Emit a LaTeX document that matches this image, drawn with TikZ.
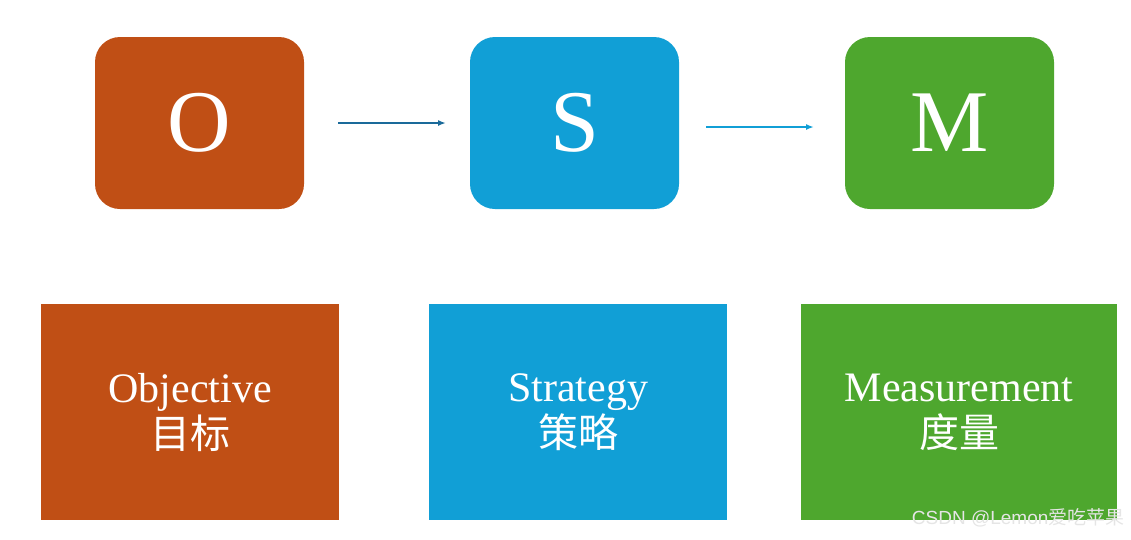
\documentclass[tikz,border=0pt]{standalone}
\usepackage{fontspec}
\setmainfont{Liberation Serif}
\newfontfamily\cjk{Noto Sans CJK SC}
\newfontfamily\wm{Liberation Sans}
\usetikzlibrary{arrows.meta}
\definecolor{co}{HTML}{C04F15}
\definecolor{cs}{HTML}{119FD6}
\definecolor{cm}{HTML}{4EA72E}
\definecolor{ca}{HTML}{1A6A9A}
\tikzset{
 rbox/.style={rounded corners=25pt,minimum width=209pt,minimum height=172pt,inner sep=0pt,text=white,font=\fontsize{88}{88}\selectfont},
 sbox/.style={minimum height=216pt,inner sep=0pt,text=white,align=center,font=\fontsize{42}{50}\selectfont},
 arr/.style={line width=2pt,-{Latex[length=8pt,width=6pt]}}
}
\begin{document}
\begin{tikzpicture}[x=1pt,y=-1pt]
\useasboundingbox (0,0) rectangle (1131,539);
\node[rbox,fill=co] (O) at (199.5,123) {O};
\node[rbox,fill=cs] (S) at (574.5,123) {S};
\node[rbox,fill=cm] (M) at (949.5,123) {M};
\coordinate (a1) at (338,123); \coordinate (a2) at (446,123);
\coordinate (b1) at (706,127); \coordinate (b2) at (814,127);
\draw[arr,ca] (a1) -- (a2);
\draw[arr,cs] (b1) -- (b2);
\node[sbox,fill=co,minimum width=298pt] (o) at (190,412) {Objective\\[-4pt]{\cjk\fontsize{40}{46}\selectfont 目标}};
\node[sbox,fill=cs,minimum width=298pt] (s) at (578,412) {Strategy\\[-4pt]{\cjk\fontsize{40}{46}\selectfont 策略}};
\node[sbox,fill=cm,minimum width=316pt] (m) at (959,412) {Measurement\\[-4pt]{\cjk\fontsize{40}{46}\selectfont 度量}};
\node[text=white!80!gray,font=\wm\fontsize{19}{19}\selectfont,anchor=east] (w) at (1128,518) {CSDN @Lemon{\cjk 爱吃苹果}};
\end{tikzpicture}
\end{document}
